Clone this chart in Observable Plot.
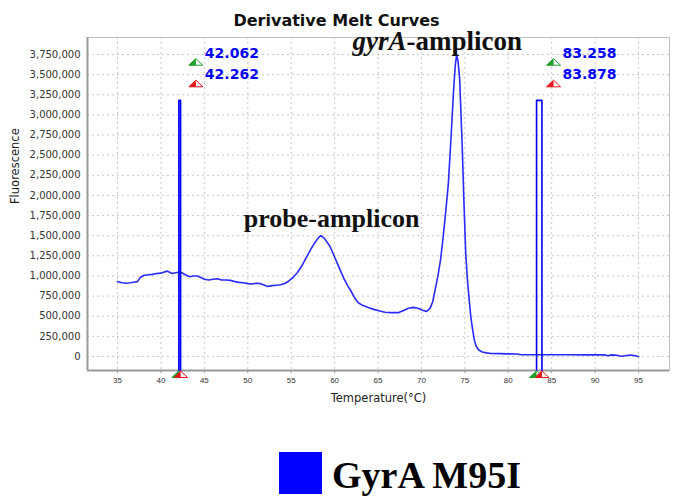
<!DOCTYPE html>
<html><head><meta charset="utf-8">
<script src="https://cdn.jsdelivr.net/npm/d3@7"></script>
<script src="https://cdn.jsdelivr.net/npm/@observablehq/plot@0.6"></script>
<style>
body{margin:0;background:#fff;width:675px;height:498px;overflow:hidden;position:relative;}
#chart{position:absolute;left:0;top:0;}
#legend{position:absolute;left:279px;top:452px;display:flex;align-items:flex-start;}
#legend .sw{width:43px;height:42px;background:#0000ff;}
#legend .lb{font-family:"Liberation Serif","Times New Roman",serif;font-weight:bold;font-size:38px;line-height:42px;margin-left:10px;margin-top:2px;color:#000;white-space:nowrap;}
</style></head><body>
<div id="chart"></div>
<div id="legend"><div class="sw"></div><div class="lb">GyrA M95I</div></div>
<script>
// Melt curve (temperature °C, -dF/dT fluorescence)
const temperatures = [35.0,35.5,36.0,36.5,37.0,37.3,37.6,38.0,38.5,39.0,39.5,40.0,40.4,40.7,41.0,41.3,41.7,42.0,42.4,42.8,43.3,43.7,44.2,44.6,45.0,45.5,46.0,46.5,47.0,47.5,48.0,48.5,49.0,49.5,50.0,50.5,51.0,51.4,51.8,52.3,52.8,53.3,53.8,54.3,54.7,55.2,55.7,56.2,56.7,57.2,57.7,58.1,58.4,58.8,59.2,59.5,59.9,60.3,60.7,61.1,61.5,61.9,62.3,62.7,63.2,63.8,64.5,65.2,65.8,66.5,67.4,68.0,68.5,69.1,69.7,70.2,70.6,71.0,71.3,71.6,71.9,72.2,72.5,72.8,73.1,73.4,73.7,73.9,74.05,74.2,74.4,74.7,74.9,75.1,75.3,75.5,75.7,75.9,76.1,76.3,76.6,77.0,77.5,78.0,79.0,80.0,81.0,81.5,83.0,85.0,87.0,89.0,91.0,91.5,91.9,92.5,93.0,93.5,94.0,94.5,95.0];
const fluorescence = [930000,915000,910000,915000,925000,930000,980000,1005000,1015000,1020000,1030000,1035000,1050000,1060000,1045000,1030000,1040000,1045000,1040000,1015000,990000,1000000,1000000,980000,960000,950000,960000,965000,950000,950000,945000,930000,920000,915000,905000,900000,910000,905000,890000,870000,880000,885000,890000,910000,935000,980000,1040000,1120000,1220000,1320000,1410000,1470000,1500000,1470000,1410000,1360000,1260000,1160000,1060000,960000,880000,810000,730000,670000,635000,610000,585000,565000,550000,545000,545000,575000,600000,610000,595000,570000,560000,600000,680000,840000,1000000,1200000,1480000,1800000,2150000,2700000,3300000,3620000,3740000,3680000,3450000,2600000,1900000,1280000,950000,700000,480000,330000,200000,130000,80000,55000,45000,37000,35000,33000,30000,22000,22000,21000,21000,20000,20000,8000,20000,15000,3000,10000,18000,12000,0];

const xTicks = [35,40,45,50,55,60,65,70,75,80,85,90,95];
const yTicks = [0,250000,500000,750000,1000000,1250000,1500000,1750000,2000000,2250000,2500000,2750000,3000000,3250000,3500000,3750000];

// Melt-region cursors
const cursorTemps = [42.062, 42.262, 83.258, 83.878];
const cursorLabels = ["42.062", "42.262", "83.258", "83.878"];
const cursorPair = [1, 1, 2, 2];
const cursorKind = ["start", "end", "start", "end"];
const cursorTop = 3180000;
const markerLevels = [3658000, 3390000];

const title = "Derivative Melt Curves";
const xLabel = "Temperature(°C)";
const yLabel = "Fluorescence";

const xDomain = [31.54, 98.57];
const yDomain = [-174000, 3961000];

const data = temperatures.map((t, i) => ({t, f: fluorescence[i]}));
const cursors = cursorTemps.map((t, i) => ({t, label: cursorLabels[i], pair: cursorPair[i], kind: cursorKind[i]}));
const cursorPath = [];
for (const p of [...new Set(cursorPair)]) {
  const [a, b] = cursors.filter(c => c.pair === p);
  cursorPath.push({t: a.t, f: yDomain[0], p}, {t: a.t, f: cursorTop, p}, {t: b.t, f: cursorTop, p}, {t: b.t, f: yDomain[0], p});
}
const topMarkers = cursors.map(c => ({
  t: cursors.find(d => d.pair === c.pair).t,
  f: c.kind === "start" ? markerLevels[0] : markerLevels[1],
  kind: c.kind, label: c.label
}));
const kindColor = k => k === "start" ? "#1f9e2a" : "#e8141a";

const gyrPeak = d3.greatest(data, d => d.f);
const probePeak = d3.greatest(data.filter(d => d.t < 65), d => d.f);

const triFull = {draw(ctx, size) {const r = Math.sqrt(size / Math.PI), h = r * 0.95; ctx.moveTo(0, -h/2); ctx.lineTo(r, h/2); ctx.lineTo(-r, h/2); ctx.closePath();}};
const triLeft = {draw(ctx, size) {const r = Math.sqrt(size / Math.PI), h = r * 0.95; ctx.moveTo(0, -h/2); ctx.lineTo(0, h/2); ctx.lineTo(-r, h/2); ctx.closePath();}};

const sans = "DejaVu Sans";
const serif = "'Liberation Serif','Times New Roman',serif";

const chart = Plot.plot({
  width: 675, height: 420,
  marginLeft: 87, marginRight: 6, marginTop: 37, marginBottom: 50,
  style: {background: "white", fontFamily: sans},
  x: {domain: xDomain},
  y: {domain: yDomain},
  marks: [
    Plot.gridX(xTicks, {stroke: "#c8c8c8", strokeOpacity: 1, strokeDasharray: "2,3"}),
    Plot.gridY(yTicks, {stroke: "#c8c8c8", strokeOpacity: 1, strokeDasharray: "2,3"}),
    Plot.frame({stroke: "#c0c0c0"}),
    Plot.ruleX([xDomain[0]], {stroke: "#9a9a9a", strokeWidth: 2}),
    Plot.ruleY([yDomain[0]], {stroke: "#9a9a9a", strokeWidth: 2}),
    Plot.axisY(yTicks, {tickFormat: d3.format(","), tickSize: 0, tickPadding: 7, fontSize: 10, fontFamily: sans, fill: "#333", label: null}),
    Plot.axisX(xTicks, {tickSize: 3, tickPadding: 4, fontSize: 8, fontFamily: "Liberation Sans", fill: "#333", stroke: "#999", label: null}),
    Plot.text([xLabel], {frameAnchor: "bottom", dy: 28, lineAnchor: "middle", fontSize: 11.5, fontFamily: sans, fill: "#222"}),
    Plot.text([yLabel], {frameAnchor: "left", dx: -72, rotate: -90, fontSize: 11.5, fontFamily: sans, fill: "#222"}),
    Plot.text([title], {frameAnchor: "top", dy: -17, dx: -42, lineAnchor: "middle", fontSize: 16, fontWeight: "bold", fontFamily: sans, fill: "#111"}),
    Plot.line(data, {x: "t", y: "f", stroke: "#2a2aff", strokeWidth: 1.6}),
    Plot.line(cursorPath, {x: "t", y: "f", z: "p", stroke: "#0000ff", strokeWidth: 1.6}),
    Plot.dot(cursors, {x: "t", y: () => yDomain[0], dy: 3.7, symbol: triFull, r: 7, fill: "white", stroke: d => kindColor(d.kind), strokeWidth: 1}),
    Plot.dot(cursors, {x: "t", y: () => yDomain[0], dy: 3.7, symbol: triLeft, r: 7, fill: d => kindColor(d.kind)}),
    Plot.dot(topMarkers, {x: "t", y: "f", dx: 17, symbol: triFull, r: 7, fill: "white", stroke: d => kindColor(d.kind), strokeWidth: 1}),
    Plot.dot(topMarkers, {x: "t", y: "f", dx: 17, symbol: triLeft, r: 7, fill: d => kindColor(d.kind)}),
    Plot.text(topMarkers, {x: "t", y: "f", text: "label", dx: 26, dy: -8.5, textAnchor: "start", fill: "#0000ff", fontWeight: "bold", fontSize: 14, fontFamily: sans}),
    Plot.text([gyrPeak], {x: "t", y: "f", text: () => "gyrA", dx: -50, dy: -5, lineAnchor: "bottom", textAnchor: "end", fontFamily: serif, fontStyle: "italic", fontWeight: "bold", fontSize: 27, fill: "#111"}),
    Plot.text([gyrPeak], {x: "t", y: "f", text: () => "-amplicon", dx: -50, dy: -5, lineAnchor: "bottom", textAnchor: "start", fontFamily: serif, fontWeight: "bold", fontSize: 27, fill: "#111"}),
    Plot.text([probePeak], {x: "t", y: "f", text: () => "probe-amplicon", dx: -77, dy: -8.5, lineAnchor: "bottom", textAnchor: "start", fontFamily: serif, fontWeight: "bold", fontSize: 26, fill: "#111"})
  ]
});
document.getElementById("chart").appendChild(chart);
</script>
</body></html>
